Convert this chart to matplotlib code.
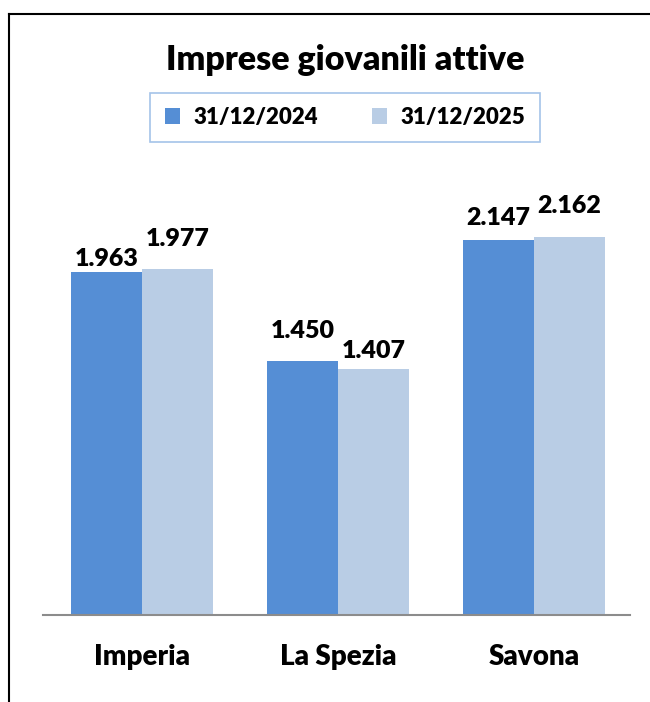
import numpy as np
import matplotlib.pyplot as plt
from matplotlib.lines import Line2D

plt.rcParams['font.family'] = ['Lato', 'DejaVu Sans']

# data
province = ['Imperia', 'La Spezia', 'Savona']
series_names = ['31/12/2024', '31/12/2025']
val_2024 = [1963, 1450, 2147]
val_2025 = [1977, 1407, 2162]
colors = ['#558ed5', '#b9cde5']

# label offsets (points) above each bar, to mimic the original placement
off_2024 = [9.4, 22.3, 15.8]
off_2025 = [21.6, 13, 22.3]


def fmt_it(v):
    return f"{v:,}".replace(",", ".")


fig = plt.figure(figsize=(6.5, 7.02), dpi=100)
ax = fig.add_axes([0.066, 0.124, 0.903, 0.6225])

x = np.arange(len(province))
w = 0.362
b1 = ax.bar(x - w / 2, val_2024, w, color=colors[0], label=series_names[0])
b2 = ax.bar(x + w / 2, val_2025, w, color=colors[1], label=series_names[1])

for bars, vals, offs in [(b1, val_2024, off_2024), (b2, val_2025, off_2025)]:
    for r, v, o in zip(bars, vals, offs):
        ax.annotate(fmt_it(v), (r.get_x() + r.get_width() / 2, v),
                    xytext=(0, o), textcoords='offset points',
                    ha='center', va='center', fontsize=18, fontweight='heavy')

ax.set_xlim(-0.505, 2.49)
ax.set_ylim(0, 2500)
ax.set_xticks(x)
ax.set_xticklabels(province, fontsize=20, fontweight='heavy')
ax.tick_params(axis='x', length=0, pad=21)
ax.set_yticks([])
for s in ['top', 'right', 'left']:
    ax.spines[s].set_visible(False)
ax.spines['bottom'].set_color('#8c8c8c')
ax.spines['bottom'].set_linewidth(1.5)

fig.text(0.531, 0.915, 'Imprese giovanili attive', ha='center', va='center',
         fontsize=24.5, fontweight='heavy')

leg = fig.legend(loc='center', bbox_to_anchor=(0.531, 0.8326), ncol=2,
                 prop={'size': 16, 'weight': 'heavy'}, frameon=True,
                 fancybox=False, handlelength=0.7, handleheight=0.7,
                 columnspacing=2.4, borderpad=0.65, handletextpad=0.6,
                 borderaxespad=0)
leg.get_frame().set_edgecolor('#8eb4e3')
leg.get_frame().set_linewidth(1.2)

# outer frame (top and left edges visible)
fig.add_artist(Line2D([9 / 650, 1.0], [1 - 14 / 702, 1 - 14 / 702],
                      transform=fig.transFigure, color='black', lw=1.5))
fig.add_artist(Line2D([9 / 650, 9 / 650], [0, 1 - 14 / 702],
                      transform=fig.transFigure, color='black', lw=1.5))

fig.savefig('out.png', dpi=100)
